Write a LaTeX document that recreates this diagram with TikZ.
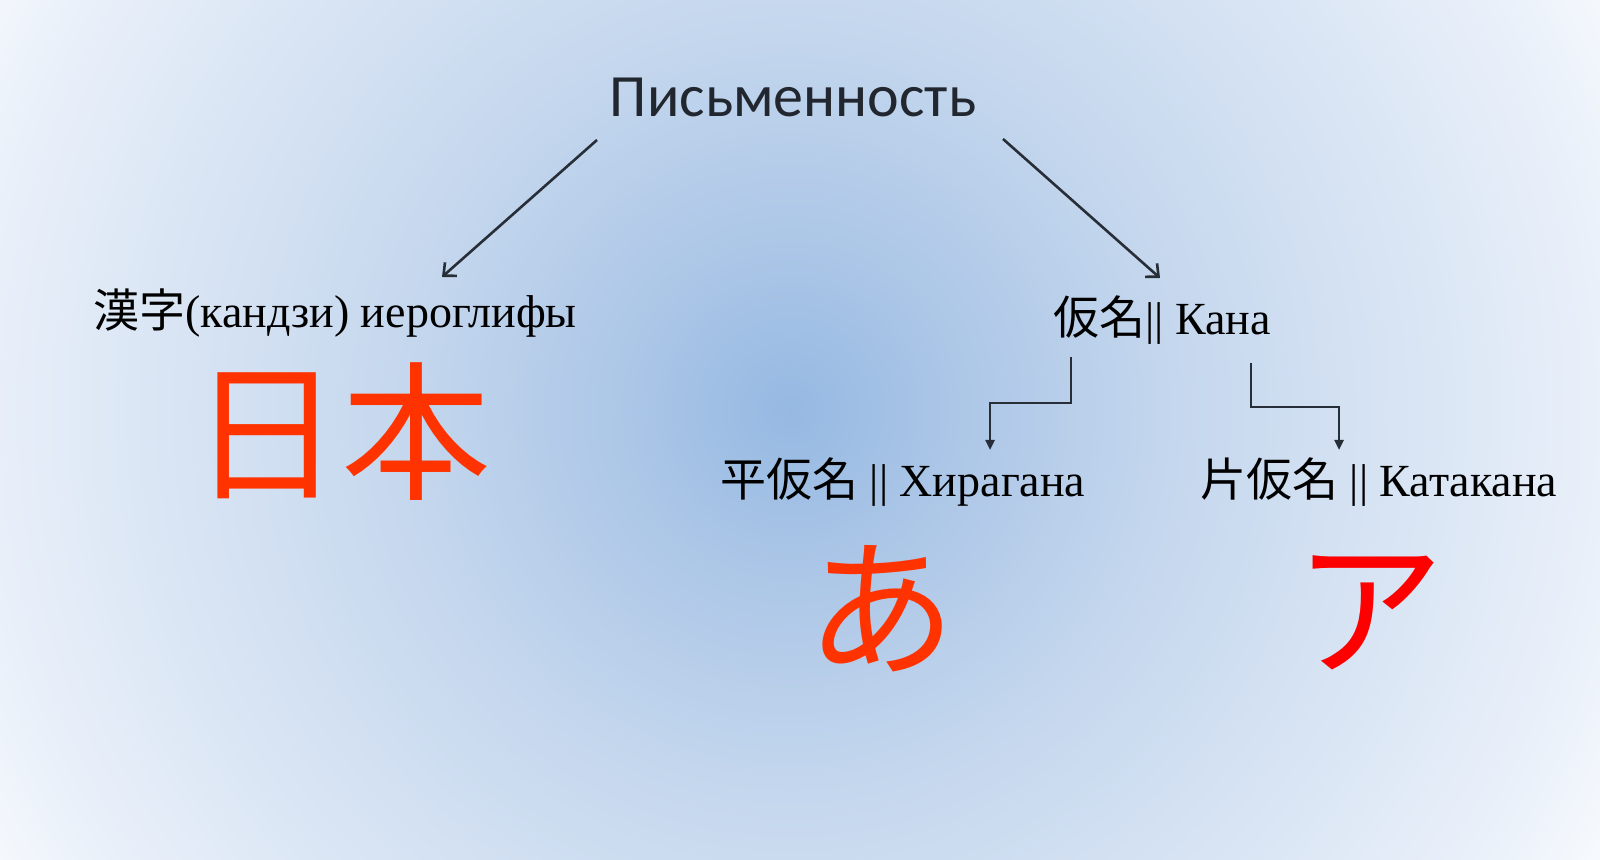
\documentclass[tikz,border=0pt]{standalone}
\usepackage{fontspec}
\setmainfont{Liberation Serif}
\newfontfamily\cjk{Noto Sans CJK JP}
\newfontfamily\titlefont{Carlito}
\usepackage{tikz}
\usetikzlibrary{positioning, arrows.meta, shapes, calc}
\usepackage{xcolor}
\definecolor{titlegray}{RGB}{33, 38, 47}
\definecolor{arrowgray}{RGB}{40, 46, 55}
\definecolor{kanjired}{RGB}{255, 51, 0}
\definecolor{bgA}{RGB}{150, 185, 226}
\definecolor{bgB}{RGB}{176, 201, 232}
\definecolor{bgC}{RGB}{198, 216, 238}
\definecolor{bgD}{RGB}{232, 239, 249}
\definecolor{bgE}{RGB}{246, 249, 253}
\pgfdeclareradialshading{slidebg}{\pgfpoint{0bp}{0bp}}{color(0bp)=(bgA); color(5bp)=(bgB); color(10bp)=(bgC); color(20bp)=(bgD); color(23bp)=(bgE); color(50bp)=(bgE)}

\begin{document}
\begin{tikzpicture}[x=0.5pt, y=-0.5pt,
  lbl/.style={inner sep=0pt, anchor=base west, font=\fontsize{23}{27}\selectfont},
  big/.style={inner sep=0pt, anchor=base, font=\cjk\fontsize{75}{80}\selectfont},
  branch/.style={draw=arrowgray, line width=1.3pt, -{Straight Barb[length=5pt, width=9pt]}},
  elbow/.style={draw=arrowgray, line width=1.2pt, -{Triangle[length=5pt, width=4.5pt]}}]
\useasboundingbox (0,0) rectangle (1600,860);
\begin{scope}
\clip (0,0) rectangle (1600,860);
\shade[shading=slidebg] (790,410) circle (500pt);
\end{scope}

\node[anchor=base, inner sep=0pt, text=titlegray, font=\titlefont\fontsize{30}{34}\selectfont] (writing) at (793,117) {Письменность};

\node[lbl] (kanji) at (93,328) {{\cjk 漢字}(кандзи) иероглифы};
\node[lbl] (kana) at (1053,335) {{\cjk 仮名}|| Кана};
\node[lbl] (hira) at (720,497) {{\cjk 平仮名} || Хирагана};
\node[lbl] (kata) at (1200,497) {{\cjk 片仮名} || Катакана};

\node[big, text=kanjired] (nihon) at (341,489) {日本};
\node[big, text=kanjired] (hirachar) at (881,664) {あ};
\node[big, text=red] (katachar) at (1369,664) {ア};

\draw[branch] ($(writing.base)+(-196,23)$) -- ($(kanji.base west)+(349,-51)$);
\draw[branch] ($(writing.base)+(210,22)$) -- ($(kana.base west)+(107,-57)$);
\draw[elbow] ($(kana.base west)+(18,22)$) -- ++(0,46) -| ($(hira.base west)+(270,-47)$);
\draw[elbow] ($(kana.base west)+(198,28)$) -- ++(0,44) -| ($(kata.base west)+(139,-47)$);
\end{tikzpicture}
\end{document}
